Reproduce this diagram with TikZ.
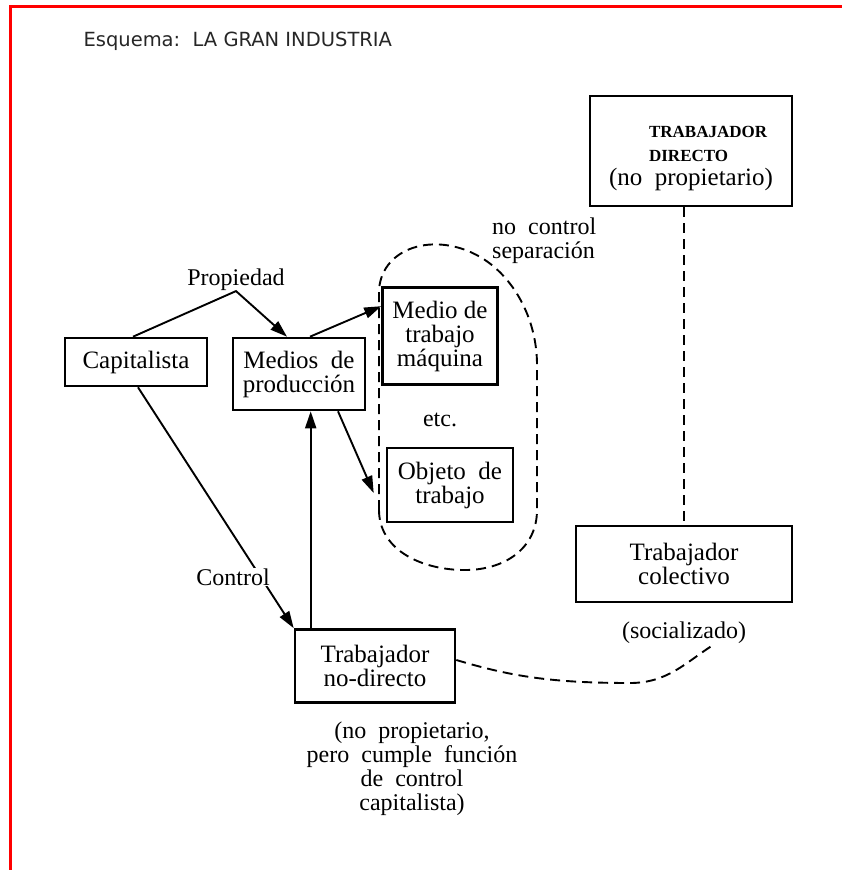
\documentclass[tikz,border=0pt]{standalone}
\usepackage{fontspec}
\setmainfont{Liberation Serif}
\newfontfamily\titlefont{DejaVu Sans}
\usetikzlibrary{positioning}
\usetikzlibrary{calc}
\usetikzlibrary{arrows.meta}

\begin{document}
\begin{tikzpicture}[x=1pt, y=-1pt,
			box/.style={draw, line width=2.6pt, align=center, inner sep=2pt, font=\fontsize{25}{24}\selectfont},
			tag/.style={align=center, inner sep=1pt, font=\fontsize{24}{24}\selectfont},
			arr/.style={line width=1.9pt, -{Triangle[length=17pt,width=11pt]}},
			dashline/.style={line width=1.9pt, dash pattern=on 10pt off 6pt}
		]
			\useasboundingbox (0,0) rectangle (842,870);
			\draw[red, line width=3pt] (10,870) -- (10,6.5) -- (842,6.5);
			\node[anchor=west, text=black!85, font=\titlefont\fontsize{19.5}{20}\selectfont] (title) at (80,41) {Esquema:\ \ LA GRAN INDUSTRIA};

			% boxes
			\node[box, minimum width=142pt, minimum height=48pt] (cap) at (136,362) {Capitalista};
			\node[box, minimum width=132pt, minimum height=72pt] (medios) at (299,374) {Medios\ \ de\\producción};
			\node[box, minimum width=115pt, minimum height=97pt] (maq) at (440,336) {Medio de\\trabajo\\máquina};
			\node[box, minimum width=126pt, minimum height=74pt] (obj) at (450,485) {Objeto\ \ de\\trabajo};
			\node[box, align=left, minimum width=202pt, minimum height=110pt] (dir) at (691,151)
				{\rule{0pt}{26pt}\hspace*{40pt}{\fontsize{17}{22}\selectfont\bfseries TRABAJADOR}\\\hspace*{40pt}{\fontsize{17}{22}\selectfont\bfseries DIRECTO}\\(no\ \ propietario)};
			\node[box, minimum width=216pt, minimum height=76pt] (col) at (684,564) {Trabajador\\colectivo};
			\node[box, minimum width=160pt, minimum height=73pt] (nodir) at (375,666) {Trabajador\\no-directo};

			% labels
			\node[tag] (prop) at (236,280) {Propiedad};
			\node[tag] (etc) at (440,420) {etc.};
			\node[tag, anchor=west, align=left] (sep) at (491,241) {no\ \ control\\separación};
			\node[tag, below=17pt of col] (soc) {(socializado)};
			\node[tag, below=17pt of nodir, xshift=37pt] (nodircap) {(no\ \ propietario,\\pero\ \ cumple\ \ función\\de\ \ control\\capitalista)};

			% connectors
			\draw[arr] ([xshift=-3pt]cap.north) -- ([yshift=1pt]prop.south) -- ([xshift=-12pt]medios.north);
			\draw[arr] ([xshift=11pt]medios.north) -- ([yshift=-20pt]maq.north west);
			\draw[arr] ([xshift=39pt]medios.south) -- ([xshift=-12pt,yshift=-8pt]obj.west);
			\draw[arr] ([xshift=2pt]cap.south) -- (nodir.north west);
			\node[tag, fill=white] (ctrl) at (233,577) {Control};
			\draw[arr] ([xshift=17pt]nodir.north west) -- ([xshift=17pt]nodir.north west |- medios.south);

			% dashed lines
			\draw[dashline] (379,510) -- (379,290) .. controls (382,245) and (440,230) .. (485,260) .. controls (515,280) and (537,320) .. (537,365) -- (537,510) .. controls (537,548) and (505,571) .. (462,570) .. controls (418,569) and (379,548) .. (379,510);
			\draw[dashline] (dir.south -| col.north) -- (col.north);
			\draw[dashline] ([yshift=6pt]nodir.east) .. controls (510,676) and (550,683) .. (630,683) .. controls (668,683) and (686,662) .. ([xshift=30pt]soc.south);
		\end{tikzpicture}
\end{document}
